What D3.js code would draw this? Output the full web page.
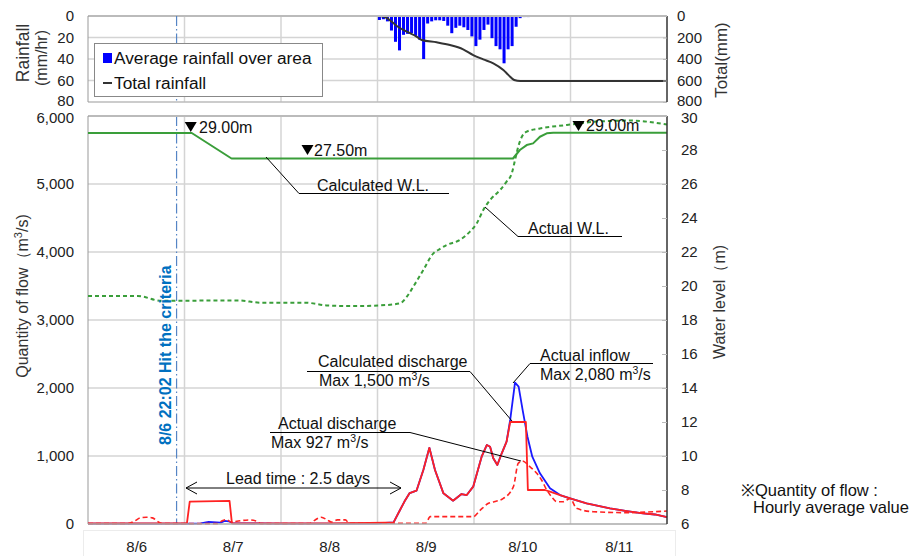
<!DOCTYPE html>
<html><head><meta charset="utf-8">
<script src="https://cdn.jsdelivr.net/npm/d3@7/dist/d3.min.js"></script>
<style>
body{margin:0;background:#fff;}
svg{display:block;font-family:"Liberation Sans",Arial,Helvetica,sans-serif;}
</style></head><body>
<svg id="c" width="909" height="556"></svg>
<script>
// ---------- data (hours since 8/6 00:00) ----------
const dayLabels = ["8/6","8/7","8/8","8/9","8/10","8/11"];
const dayCenters = [12,36,60,84,108,132];
const dayBounds = [24,48,72,96,120];
const qTicks = [0,1000,2000,3000,4000,5000,6000];
const wlTicks = [6,8,10,12,14,16,18,20,22,24,26,28,30];
const rainTicks = [0,20,40,60,80];
const totalTicks = [0,200,400,600,800];

const rainHours = [39,72,73,74,75,76,77,78,79,80,81,82,83,84,85,86,87,88,89,90,91,92,93,94,95,96,97,98,99,100,101,102,103,104,105,106,107,108,109];
const rain = [0.5,3.7,3,5,13.5,24,32,17.5,16.6,16,18.5,22,40,7,5,4,4,4.6,9,16,11,9,10.5,13,19,28,22,13,8,20.6,28,31,44,31,28,10,2,1,1];

const totalHours = [66,72,73.5,75,76.8,79.3,81.7,83,86.7,90,93.3,95.8,98.3,100.8,103.3,104.6,106,107.5,144];
const totalRain = [0,0,5,37,93,146,192,223,245,270,310,363,403,440,502,550,595,605,605];

const calcWLHours = [0,25.8,35.7,105.7,107.4,109.1,110.7,112.4,114.1,115.7,144];
const calcWL = [29,29,27.5,27.5,28.0,28.29,28.39,28.78,28.98,29.02,29.02];

const actualWLHours = [0,12.4,18.2,37.3,43,54,59.7,66,72.6,77.6,79.3,80.9,83.4,85.9,87.1,89.2,92.5,95,96.7,98.3,100,102.5,104.1,105.4,106.2,107,107.9,109.1,112.4,119.1,126.5,134.8,144];
const actualWL = [19.41,19.41,19.13,19.15,19.02,19.02,18.85,18.82,18.86,18.98,19.37,19.96,20.94,21.92,22.12,22.41,22.71,23.2,23.69,24.47,25.06,25.65,26.14,26.63,27.41,28.19,28.78,29.08,29.27,29.47,29.67,29.73,29.5];

const inflowHours = [0,25,28,30,33,34,35,36,48,72,76,77.6,78.7,80,81.7,83.4,84.9,86.3,88.4,90.8,92.9,94.2,95.8,97.9,99.2,100,100.8,101.8,102.9,104.1,105,106.2,107.1,108.1,109.3,110.5,112.4,114.9,117.4,119.9,124,129.8,134,138,141,144];
const inflow = [5,5,10,30,20,45,40,10,5,10,25,206,330,455,490,794,1120,794,451,343,441,426,549,990,1162,1137,966,868,1040,1210,1530,2080,2020,1676,1284,990,745,525,426,377,304,230,190,157,140,100];

const calcQHours = [0,24.6,25.3,35.2,35.8,48,60,70,74,76,77.6,78.7,80,81.7,83.4,84.9,86.3,88.4,90.8,92.9,94.2,95.8,97.9,99.2,100,100.8,101.8,102.9,104.1,105,108.9,109.4,113.6,114.9,117.4,119.9,124,129.8,134,138,141,144];
const calcQ = [10,10,330,340,10,10,10,15,20,25,206,330,455,490,794,1120,794,451,343,441,426,549,990,1162,1137,966,868,1040,1210,1500,1500,500,500,475,426,377,304,230,190,157,140,100];

const actualQHours = [0,10,11.5,13,14.5,16,17.5,18.5,32,33.5,34.5,35.5,37,40,42,43,55,56.5,58,59.5,60.5,62,64,65,84,85.1,95.8,97.5,99.6,101,103.3,105.8,107,108,109.9,111.6,112.8,114.1,115.3,116.6,118.2,119.9,121.5,125.7,134,139,144];
const actualQ = [5,5,40,90,100,90,30,5,5,50,65,30,40,60,40,5,5,60,100,60,30,60,60,10,10,108,108,200,304,328,377,549,892,927,843,745,647,500,402,328,328,377,230,181,167,175,191];

const criteriaHour = 22.03;

(function(){
const FONT = '"Liberation Sans",Arial,Helvetica,sans-serif';
const svg = d3.select("#c");
const L = 88, R = 667;
const x = d3.scaleLinear().domain([0,144]).range([L,R]);
const yQ = d3.scaleLinear().domain([0,6000]).range([524,116]);
const yW = d3.scaleLinear().domain([6,30]).range([524,116]);
const yR = d3.scaleLinear().domain([0,80]).range([16,102]);
const yT = d3.scaleLinear().domain([0,800]).range([16,102]);

const GRID = "#d4d4d4";
const GREEN = "#3a9e3a", RED = "#ff2222", BLUE = "#1a1aff";
const TICKF = 15;

function styleAxis(g, size){
  g.attr("font-family", FONT).attr("font-size", size);
  g.selectAll("text").attr("fill","#222");
}

// ---------- top panel ----------
const topG = svg.append("g");
topG.selectAll(".hg").data(rainTicks.filter(d=>d>0 && d<80)).enter().append("line")
  .attr("x1",L).attr("x2",R).attr("y1",d=>yR(d)).attr("y2",d=>yR(d))
  .attr("stroke",GRID).attr("stroke-width",1.5);
topG.selectAll(".vg").data(dayBounds).enter().append("line")
  .attr("x1",d=>x(d)).attr("x2",d=>x(d)).attr("y1",yR(0)).attr("y2",yR(80))
  .attr("stroke",GRID).attr("stroke-width",1.5);

const bw = x(1)-x(0);
topG.selectAll(".bar").data(rain).enter().append("rect")
  .attr("x",(d,i)=>x(rainHours[i])+0.4).attr("width",bw-1)
  .attr("y",yR(0)).attr("height",d=>yR(d)-yR(0))
  .attr("fill","#0000ff");
topG.append("path").datum(totalRain)
  .attr("d", d3.line().x((d,i)=>x(totalHours[i])).y(d=>yT(d)).curve(d3.curveMonotoneX))
  .attr("fill","none").attr("stroke","#333").attr("stroke-width",2);

topG.append("line").attr("x1",L).attr("x2",R).attr("y1",yR(0)).attr("y2",yR(0)).attr("stroke","#bbb").attr("stroke-width",2);
topG.append("line").attr("x1",L).attr("x2",R).attr("y1",yR(80)).attr("y2",yR(80)).attr("stroke","#bbb").attr("stroke-width",1.5);
topG.append("line").attr("x1",L).attr("x2",L).attr("y1",yR(0)).attr("y2",yR(80)).attr("stroke","#999").attr("stroke-width",1);
topG.append("line").attr("x1",R).attr("x2",R).attr("y1",yR(0)).attr("y2",yR(80)).attr("stroke","#333").attr("stroke-width",1.5);

// criteria line (top + main), drawn before the legend so the legend box hides it
[[yR(0),yR(80)],[yQ(6000),yQ(0)]].forEach(([a,b])=>{
  svg.append("line").attr("x1",x(criteriaHour)).attr("x2",x(criteriaHour)).attr("y1",a).attr("y2",b)
    .attr("stroke","#5585c5").attr("stroke-width",1.2).attr("stroke-dasharray","10,3,1.5,3");
});

const axR1 = topG.append("g").attr("transform",`translate(${L},0)`)
  .call(d3.axisLeft(yR).tickValues(rainTicks).tickSize(0).tickPadding(14));
axR1.select(".domain").remove(); styleAxis(axR1,TICKF);
axR1.selectAll(".tick text").filter(d=>d===80).attr("dy","0.2em");
const axT1 = topG.append("g").attr("transform",`translate(${R},0)`)
  .call(d3.axisRight(yT).tickValues(totalTicks).tickSizeInner(-4).tickSizeOuter(0).tickPadding(10));
axT1.select(".domain").remove(); axT1.selectAll("line").attr("stroke","#bbb"); styleAxis(axT1,TICKF);
axT1.selectAll(".tick text").filter(d=>d===800).attr("dy","0.2em");

// legend
const lg = svg.append("g");
lg.append("rect").attr("x",94.5).attr("y",43.5).attr("width",228).attr("height",53)
  .attr("fill","#fff").attr("stroke","#888").attr("stroke-width",1);
lg.append("rect").attr("x",103).attr("y",53).attr("width",9).attr("height",10).attr("fill","#0000ff");
lg.append("text").attr("x",114).attr("y",64).attr("font-size",17.3).attr("fill","#111").text("Average rainfall over area");
lg.append("line").attr("x1",103).attr("x2",112).attr("y1",83).attr("y2",83).attr("stroke","#333").attr("stroke-width",2);
lg.append("text").attr("x",114).attr("y",89).attr("font-size",17.3).attr("fill","#111").text("Total rainfall");

svg.append("text").attr("transform","translate(29,53) rotate(-90)").attr("text-anchor","middle")
  .attr("font-size",17.5).attr("fill","#333").text("Rainfall");
svg.append("text").attr("transform","translate(47,58) rotate(-90)").attr("text-anchor","middle")
  .attr("font-size",16).attr("fill","#333").text("(mm/hr)");
svg.append("text").attr("transform","translate(727,60) rotate(-90)").attr("text-anchor","middle")
  .attr("font-size",17).attr("fill","#333").text("Total(mm)");

// ---------- main panel ----------
const main = svg.append("g");
main.selectAll(".hg").data(qTicks.filter(d=>d>0 && d<6000)).enter().append("line")
  .attr("x1",L).attr("x2",R).attr("y1",d=>yQ(d)).attr("y2",d=>yQ(d))
  .attr("stroke",GRID).attr("stroke-width",1.5);
main.selectAll(".vg").data(dayBounds).enter().append("line")
  .attr("x1",d=>x(d)).attr("x2",d=>x(d)).attr("y1",yQ(0)).attr("y2",yQ(6000))
  .attr("stroke",GRID).attr("stroke-width",1.5);
main.lower();

svg.append("line").attr("x1",L).attr("x2",R).attr("y1",yQ(6000)).attr("y2",yQ(6000)).attr("stroke","#bbb").attr("stroke-width",2);
svg.append("line").attr("x1",L).attr("x2",L).attr("y1",yQ(0)).attr("y2",yQ(6000)).attr("stroke","#999").attr("stroke-width",1);

svg.append("rect").attr("x",83.5).attr("y",530.5).attr("width",592).attr("height",40)
  .attr("fill","none").attr("stroke","#ececec");

const marks = svg.append("g");
const line = (hs)=> d3.line().x((d,i)=>x(hs[i]));

marks.append("path").datum(actualWL)
  .attr("d", line(actualWLHours).y(d=>yW(d)).curve(d3.curveMonotoneX))
  .attr("fill","none").attr("stroke",GREEN).attr("stroke-width",2).attr("stroke-dasharray","4,3");
marks.append("path").datum(calcWL)
  .attr("d", line(calcWLHours).y(d=>yW(d)))
  .attr("fill","none").attr("stroke",GREEN).attr("stroke-width",2).attr("stroke-linejoin","round");

marks.append("path").datum(inflow)
  .attr("d", line(inflowHours).y(d=>yQ(d)))
  .attr("fill","none").attr("stroke",BLUE).attr("stroke-width",1.8).attr("stroke-linejoin","round");
marks.append("path").datum(calcQ)
  .attr("d", line(calcQHours).y(d=>yQ(d)))
  .attr("fill","none").attr("stroke",RED).attr("stroke-width",1.8).attr("stroke-linejoin","round");
marks.append("path").datum(actualQ)
  .attr("d", line(actualQHours).y(d=>yQ(d)).curve(d3.curveMonotoneX))
  .attr("fill","none").attr("stroke",RED).attr("stroke-width",1.6).attr("stroke-dasharray","5,3");

svg.append("line").attr("x1",L).attr("x2",R).attr("y1",yQ(0)).attr("y2",yQ(0)).attr("stroke","#aaa").attr("stroke-width",1.5);
svg.append("line").attr("x1",R).attr("x2",R).attr("y1",yQ(0)).attr("y2",yQ(6000)).attr("stroke","#333").attr("stroke-width",1.5);

const axQ = svg.append("g").attr("transform",`translate(${L},0)`)
  .call(d3.axisLeft(yQ).tickValues(qTicks).tickFormat(d3.format(",")).tickSize(0).tickPadding(14));
axQ.select(".domain").remove(); styleAxis(axQ,TICKF);
axQ.selectAll(".tick text").filter(d=>d===6000).attr("dy","0.42em");
const axW = svg.append("g").attr("transform",`translate(${R},0)`)
  .call(d3.axisRight(yW).tickValues(wlTicks).tickSizeInner(-5).tickSizeOuter(0).tickPadding(14));
axW.select(".domain").remove(); axW.selectAll("line").attr("stroke","#bbb"); styleAxis(axW,TICKF);
axW.selectAll(".tick text").filter(d=>d===30).attr("dy","0.42em");
const axX = svg.append("g").attr("transform",`translate(0,${yQ(0)})`)
  .call(d3.axisBottom(x).tickValues(dayCenters).tickFormat((d,i)=>dayLabels[i]).tickSize(0).tickPadding(17));
axX.select(".domain").remove(); styleAxis(axX,TICKF);

const t1 = svg.append("text").attr("transform","translate(28,296) rotate(-90)").attr("text-anchor","middle")
  .attr("font-size",16).attr("fill","#333");
t1.append("tspan").text("Quantity of flow（m");
t1.append("tspan").attr("font-size",11).attr("dy",-6).text("3");
t1.append("tspan").attr("dy",6).text("/s)");
svg.append("text").attr("transform","translate(725,302) rotate(-90)").attr("text-anchor","middle")
  .attr("font-size",16).attr("fill","#333").text("Water level（m)");

// ---------- annotations ----------
const ann = svg.append("g").attr("font-size",16).attr("fill","#111");
function tri(cx, ty){
  ann.append("path").attr("d",`M${cx-6},${ty} L${cx+6},${ty} L${cx},${ty+10} Z`).attr("fill","#000");
}
tri(x(25.8)-1, 122); ann.append("text").attr("x",199).attr("y",133).text("29.00m");
tri(307.5, 145); ann.append("text").attr("x",314).attr("y",156).text("27.50m");
tri(578.5, 121); ann.append("text").attr("x",586).attr("y",131).text("29.00m");

function lead(pts){
  ann.append("path").attr("d", d3.line()(pts)).attr("fill","none").attr("stroke","#000").attr("stroke-width",1);
}
ann.append("text").attr("x",317).attr("y",191).text("Calculated W.L.");
lead([[266,157],[299,193.5],[449,193.5]]);
ann.append("text").attr("x",528).attr("y",234).text("Actual W.L.");
lead([[485,207],[518,236.5],[622,236.5]]);

function qText(tx, ty, label, num, dx){
  ann.append("text").attr("x",tx).attr("y",ty).text(label);
  const t = ann.append("text").attr("x",tx+dx).attr("y",ty+19);
  t.append("tspan").text(num + " m");
  t.append("tspan").attr("font-size",10.5).attr("dy",-6).text("3");
  t.append("tspan").attr("dy",6).text("/s");
}
qText(318, 367, "Calculated discharge", "Max 1,500", 1);
lead([[307,371.5],[470,371.5],[512,421]]);
qText(540, 361, "Actual inflow", "Max 2,080", 0);
lead([[653,363.5],[530,363.5],[513,383]]);
qText(278, 429, "Actual discharge", "Max 927", -7);
lead([[270,432.5],[410,432.5],[521,461]]);

ann.append("text").attr("x",226).attr("y",484).text("Lead time : 2.5 days");
lead([[186,488],[401,488]]);
lead([[197,482],[186,488],[197,494]]);
lead([[390,482],[401,488],[390,494]]);

svg.append("text").attr("transform","translate(171,445) rotate(-90)")
  .attr("font-size",16).attr("font-weight","bold").attr("fill","#0070c0")
  .text("8/6 22:02 Hit the criteria");

svg.append("text").attr("x",741).attr("y",496).attr("font-size",16.5).attr("fill","#111").text("※Quantity of flow :");
svg.append("text").attr("x",753).attr("y",513).attr("font-size",16.5).attr("fill","#111").text("Hourly average value");
})();
</script>
</body></html>
